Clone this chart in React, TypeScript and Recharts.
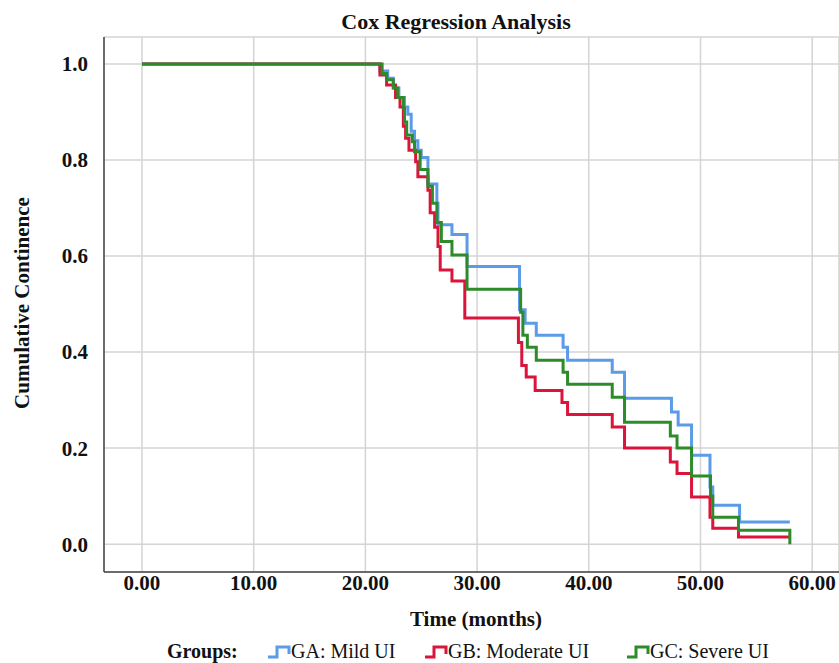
import React from "react";
import { CartesianGrid, Line, LineChart, XAxis, YAxis } from "recharts";

// step points
const gaTime = [0, 21.3, 22.0, 22.5, 23.0, 23.5, 23.8, 24.1, 24.4, 24.7, 25.0, 25.6, 26.4, 26.5, 27.75, 29.1, 33.8, 34.3, 35.3, 37.7, 38.1, 42.1, 43.2, 47.4, 48.0, 49.2, 50.85, 51.1, 53.5, 58.0];
const gaSurv = [1.0, 0.985, 0.97, 0.95, 0.93, 0.91, 0.895, 0.86, 0.84, 0.82, 0.805, 0.75, 0.71, 0.665, 0.645, 0.578, 0.488, 0.46, 0.435, 0.41, 0.383, 0.358, 0.304, 0.275, 0.248, 0.185, 0.119, 0.081, 0.046, 0.046];

const gbTime = [0, 21.3, 21.9, 22.7, 23.1, 23.4, 23.6, 23.9, 24.5, 24.7, 25.6, 25.8, 26.2, 26.5, 26.7, 27.75, 28.9, 33.7, 34.0, 34.4, 35.2, 37.6, 38.1, 42.1, 43.2, 47.3, 47.9, 49.2, 50.85, 51.1, 53.4, 58.0];
const gbSurv = [1.0, 0.977, 0.956, 0.93, 0.91, 0.87, 0.845, 0.82, 0.796, 0.765, 0.737, 0.69, 0.66, 0.62, 0.571, 0.548, 0.471, 0.42, 0.372, 0.348, 0.32, 0.295, 0.27, 0.244, 0.2, 0.171, 0.147, 0.098, 0.056, 0.033, 0.015, 0.015];

const gcTime = [0, 21.5, 21.9, 22.5, 22.9, 23.4, 23.5, 23.7, 24.2, 24.4, 24.9, 25.6, 26.0, 26.4, 26.8, 27.75, 29.1, 33.9, 34.1, 34.5, 35.3, 37.7, 38.1, 42.1, 43.2, 47.3, 47.9, 49.2, 50.9, 51.1, 53.4, 58.0];
const gcSurv = [1.0, 0.98, 0.967, 0.95, 0.93, 0.908, 0.879, 0.852, 0.838, 0.817, 0.78, 0.745, 0.71, 0.67, 0.63, 0.602, 0.531, 0.483, 0.435, 0.41, 0.383, 0.358, 0.333, 0.306, 0.254, 0.225, 0.2, 0.142, 0.1, 0.056, 0.029, 0.0];

const groupNames = ["GA: Mild UI", "GB: Moderate UI", "GC: Severe UI"];
const groupColors = ["#5b9be8", "#dc143c", "#2e8b2a"];
const xTicks = [0, 10, 20, 30, 40, 50, 60];
const yTicks = [0, 0.2, 0.4, 0.6, 0.8, 1.0];

const FONT = "'Liberation Serif', serif";

const toRows = (t: number[], s: number[]) => t.map((x, i) => ({ t: x, s: s[i] }));
const series = [toRows(gaTime, gaSurv), toRows(gbTime, gbSurv), toRows(gcTime, gcSurv)];

function StepIcon({ color }: { color: string }) {
  return (
    <svg width={24} height={16}>
      <path d="M1 13 H10 V3 H22 V10" fill="none" stroke={color} strokeWidth={3} />
    </svg>
  );
}

// legend items placed where they sit in the original
const legendLeft = [267, 424, 626];

function GroupsLegend() {
  return (
    <div
      style={{
        position: "absolute",
        top: 641,
        left: 0,
        width: 839,
        height: 21,
        lineHeight: "21px",
        fontFamily: FONT,
        fontSize: 20,
        color: "#111",
      }}
    >
      <span style={{ position: "absolute", left: 167, top: 0, fontWeight: "bold" }}>Groups:</span>
      {groupNames.map((n, i) => (
        <span
          key={n}
          style={{ position: "absolute", left: legendLeft[i], top: 0, display: "flex", alignItems: "center", whiteSpace: "nowrap" }}
        >
          <StepIcon color={groupColors[i]} />
          {n}
        </span>
      ))}
    </div>
  );
}

export default function App() {
  return (
    <div style={{ position: "absolute", left: 0, top: 0, width: 839, height: 663, background: "#fff", overflow: "hidden" }}>
      <div
        style={{
          position: "absolute",
          top: 9,
          left: 0,
          width: 912,
          textAlign: "center",
          fontFamily: FONT,
          fontWeight: "bold",
          fontSize: 22,
          color: "#111",
        }}
      >
        Cox Regression Analysis
      </div>
      <div
        style={{
          position: "absolute",
          left: 22,
          top: 303,
          transform: "translate(-50%, -50%) rotate(-90deg)",
          whiteSpace: "nowrap",
          fontFamily: FONT,
          fontWeight: "bold",
          fontSize: 21,
          color: "#111",
        }}
      >
        Cumulative Continence
      </div>
      <div
        style={{
          position: "absolute",
          top: 607,
          left: 0,
          width: 952,
          textAlign: "center",
          fontFamily: FONT,
          fontWeight: "bold",
          fontSize: 21,
          color: "#111",
        }}
      >
        Time (months)
      </div>
      <LineChart width={839} height={663} margin={{ top: 37, right: 0, left: 0, bottom: 0 }}>
        <CartesianGrid stroke="#d4d4d4" strokeWidth={1.5} />
        <XAxis
          dataKey="t"
          type="number"
          domain={[-3.4, 62.4]}
          ticks={xTicks}
          allowDataOverflow
          height={91}
          tickLine={false}
          tickSize={3}
          tickMargin={0}
          axisLine={{ stroke: "#444", strokeWidth: 1.5 }}
          tickFormatter={(v) => v.toFixed(2)}
          tick={{ fill: "#111", fontSize: 21, fontWeight: "bold", fontFamily: FONT }}
        />
        <YAxis
          type="number"
          domain={[-0.058, 1.056]}
          ticks={yTicks}
          allowDataOverflow
          width={104}
          tickLine={false}
          tickMargin={10}
          axisLine={{ stroke: "#444", strokeWidth: 1.5 }}
          tickFormatter={(v) => v.toFixed(1)}
          tick={{ fill: "#111", fontSize: 21, fontWeight: "bold", fontFamily: FONT }}
        />
        {series.map((d, i) => (
          <Line
            key={groupNames[i]}
            data={d}
            dataKey="s"
            name={groupNames[i]}
            type="stepAfter"
            stroke={groupColors[i]}
            strokeWidth={3}
            dot={false}
            activeDot={false}
            isAnimationActive={false}
          />
        ))}
      </LineChart>
      <GroupsLegend />
    </div>
  );
}
